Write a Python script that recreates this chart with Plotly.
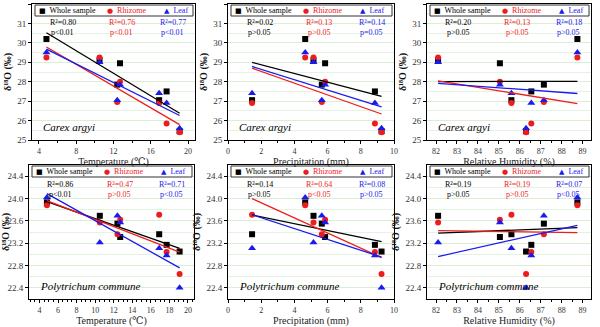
import numpy as np
import plotly.graph_objects as go

# ---------------- data ----------------
temperature = [4.8, 10.5, 12.4, 12.7, 16.9, 17.7, 19.1]
precipitation = [4.65, 5.15, 5.65, 5.85, 1.45, 8.85, 9.25]
humidity = [88.75, 82.1, 87.15, 85.05, 85.6, 86.55, 86.3]

carex_whole = [30.2, 29.1, 27.85, 28.95, 27.05, 27.5, 25.45]
carex_rhizome = [29.25, 29.25, 26.95, 28.0, 26.9, 25.85, 25.4]
carex_leaf = [29.5, 29.0, 27.05, 27.85, 27.4, 26.9, 25.6]

poly_whole = [23.93, 23.69, 23.55, 23.31, 23.36, 23.17, 23.05]
poly_rhizome = [23.88, 23.57, 23.36, 23.62, 23.71, 23.04, 22.65]
poly_leaf = [24.02, 23.21, 23.69, 23.57, 23.11, 22.98, 22.4]

series_names = ["Whole sample", "Rhizome", "Leaf"]
species = ["Carex argyi", "Polytrichum commune"]
x_titles = ["Temperature (℃)", "Precipitation (mm)", "Relative Humidity (%)"]

r2_text = [
    [["0.80", "0.76", "0.77"], ["0.02", "0.13", "0.14"], ["0.20", "0.13", "0.18"]],
    [["0.86", "0.47", "0.71"], ["0.14", "0.64", "0.08"], ["0.19", "0.19", "0.07"]],
]
p_text = [
    [["p<0.01", "p<0.01", "p<0.01"], ["p>0.05", "p>0.05", "p=0.05"], ["p>0.05", "p>0.05", "p>0.05"]],
    [["p<0.01", "p>0.05", "p<0.05"], ["p>0.05", "p<0.05", "p>0.05"], ["p>0.05", "p>0.05", "p<0.05"]],
]

# ---------------- styling ----------------
W, H = 600, 327
FONT = "Times New Roman, Liberation Serif, DejaVu Serif, serif"
colors = ["#000000", "#ee1c1c", "#1a1aee"]
symbols = ["square", "circle", "triangle-up"]
glyphs = ["■", "●", "▲"]

x_data = [temperature, precipitation, humidity]
y_data = [[carex_whole, carex_rhizome, carex_leaf], [poly_whole, poly_rhizome, poly_leaf]]

col_px = [[(32, 195), (228, 394), (427, 591)], [(29, 194), (228, 394), (427, 591)]]
row_px = [(4, 140), (165, 299)]
x_ranges = [[[3.25, 20.75], [0, 10], [81.57, 89.4]], [[2.87, 20.65], [0, 10], [81.57, 89.4]]]
x_ticks = [[[4, 8, 12, 16, 20], [0, 2, 4, 6, 8, 10], list(range(82, 90))],
           [list(range(4, 21, 2)), [0, 2, 4, 6, 8, 10], list(range(82, 90))]]
y_ranges = [[25, 32], [22.2, 24.6]]
y_ticks = [list(range(25, 33)), [22.4, 22.8, 23.2, 23.6, 24.0, 24.4]]
y_minor = [0.5, 0.2]
x_title_standoff = [3, 3]

fig = go.Figure()
layout = {}
annotations = []
shapes = []

k = 0
for r in range(2):
    for c in range(3):
        k += 1
        xa = "x" if k == 1 else f"x{k}"
        ya = "y" if k == 1 else f"y{k}"
        xd = f"{xa} domain"
        yd = f"{ya} domain"
        xs = x_data[c]
        (l, rgt) = col_px[r][c]
        (top, bot) = row_px[r]
        pw = rgt - l
        ph = bot - top

        # scatter markers
        for s in range(3):
            fig.add_trace(go.Scatter(
                x=xs, y=y_data[r][s], mode="markers", xaxis=xa, yaxis=ya,
                marker=dict(symbol=symbols[s], color=colors[s],
                            size=6 if s < 2 else 7, line=dict(width=0)),
                showlegend=False, name=series_names[s]))
        # regression lines (least-squares fit of each series)
        for s in range(3):
            xv = np.array(xs, dtype=float)
            yv = np.array(y_data[r][s], dtype=float)
            slope, icpt = np.polyfit(xv, yv, 1)
            xl = np.array([xv.min(), xv.max()])
            fig.add_trace(go.Scatter(
                x=xl, y=slope * xl + icpt, mode="lines", xaxis=xa, yaxis=ya,
                line=dict(color=colors[s], width=1.3),
                showlegend=False, hoverinfo="skip"))

        axis_common = dict(
            showline=True, linecolor="black", linewidth=1, mirror=True,
            ticks="outside", ticklen=3, tickwidth=1, tickcolor="black",
            tickfont=dict(family=FONT, size=9, color="#333333"),
            zeroline=False, automargin=False,
        )
        layout["xaxis" if k == 1 else f"xaxis{k}"] = dict(
            axis_common, anchor=ya,
            domain=[l / W, rgt / W], range=x_ranges[r][c],
            tickvals=x_ticks[r][c], showgrid=False,
            tickfont=dict(family=FONT, size=8, color="#333333"),
            minor=dict(ticks="outside", ticklen=2, tickcolor="black",
                       dtick=(2 if (c == 0 and r == 0) else (1 if c == 1 else 0.5)),
                       showgrid=False),
            title=dict(text=x_titles[c], font=dict(family=FONT, size=10, color="#222222"),
                       standoff=x_title_standoff[r]),
        )
        layout["yaxis" if k == 1 else f"yaxis{k}"] = dict(
            axis_common, anchor=xa,
            domain=[1 - bot / H, 1 - top / H], range=y_ranges[r],
            tickvals=y_ticks[r], tickformat=".0f" if r == 0 else ".1f",
            showgrid=True, gridcolor="#d9eed3", gridwidth=1,
            minor=dict(dtick=y_minor[r], showgrid=True, gridcolor="#e4f3df",
                       ticks="", tick0=y_ranges[r][0]),
            title=dict(text="δ¹⁸O (‰)",
                       font=dict(family=FONT, size=10, color="#111111", weight="bold"),
                       standoff=3),
        )

        # legend box
        shapes.append(dict(type="rect", xref=xd, yref=yd,
                           x0=3 / pw, x1=(pw - 2) / pw,
                           y0=1 - 12 / ph, y1=1 - 1 / ph,
                           line=dict(color="#333333", width=1), fillcolor="white"))
        item_x = [6, 74, 131]
        for s in range(3):
            annotations.append(dict(
                xref=xd, yref=yd, x=item_x[s] / pw, y=1 - 6.5 / ph,
                text=(f"<span style='font-family:DejaVu Sans;font-size:7px'>{glyphs[s]}</span>"
                      f"  {series_names[s]}"),
                showarrow=False, xanchor="left", yanchor="middle", borderpad=0,
                font=dict(family=FONT, size=8, color=colors[s])))
        # R2 and p texts
        stat_x = [0.19, 0.55, 0.865]
        for s in range(3):
            annotations.append(dict(xref=xd, yref=yd, x=stat_x[s], y=1 - 19 / ph,
                                    text=f"R²={r2_text[r][c][s]}", showarrow=False,
                                    xanchor="center", yanchor="middle", borderpad=0,
                                    font=dict(family=FONT, size=8, color=colors[s])))
            annotations.append(dict(xref=xd, yref=yd, x=stat_x[s], y=1 - 29 / ph,
                                    text=p_text[r][c][s], showarrow=False,
                                    xanchor="center", yanchor="middle", borderpad=0,
                                    font=dict(family=FONT, size=8, color=colors[s])))
        # species label
        annotations.append(dict(xref=xd, yref=yd, x=9 / pw, y=13 / ph,
                                text=species[r], showarrow=False,
                                xanchor="left", yanchor="middle",
                                font=dict(family=FONT, size=11, color="black", style="italic")))

fig.update_layout(
    width=W, height=H, margin=dict(l=0, r=0, t=0, b=0),
    paper_bgcolor="white", plot_bgcolor="white",
    font=dict(family=FONT),
    showlegend=False, annotations=annotations, shapes=shapes,
    **layout,
)
fig.write_html("out.html")
